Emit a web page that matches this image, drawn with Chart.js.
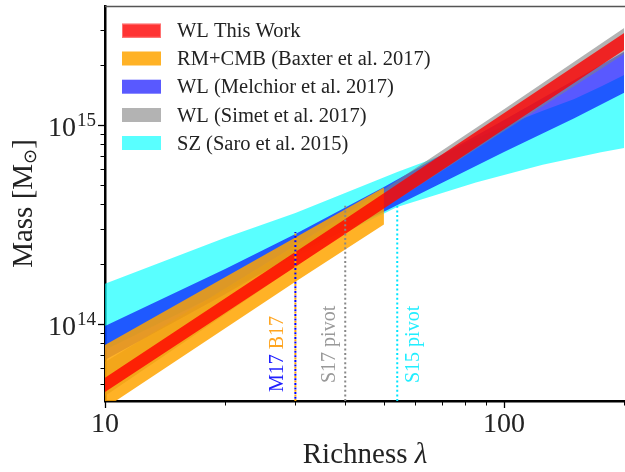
<!DOCTYPE html>
<html>
<head>
<meta charset="utf-8">
<script src="https://cdn.jsdelivr.net/npm/chart.js@4.4.1/dist/chart.umd.min.js"></script>
<style>
  html, body { margin: 0; padding: 0; background: #fff; }
  canvas { display: block; }
</style>
</head>
<body>
<canvas id="massChart" width="625" height="472"></canvas>
<script>
// band edges in Msun at a few richness values
const lambdaRed = [10, 40, 200];
const redUpper = [5.36e13, 3.37e14, 2.90e15];
const redLower = [4.55e13, 2.83e14, 2.38e15];

const lambdaBaxter = [10, 30, 50];
const baxterUpper = [7.84e13, 2.72e14, 4.85e14];
const baxterLower = [3.78e13, 1.63e14, 3.16e14];

const lambdaMelchior = [10, 20, 30, 50, 100, 150, 200];
const melchiorUpper = [9.77e13, 1.89e14, 2.83e14, 4.88e14, 1.06e15, 1.68e15, 2.33e15];
const melchiorLower = [6.59e13, 1.41e14, 2.25e14, 3.66e14, 7.31e14, 1.08e15, 1.45e15];

const lambdaSimet = [10, 40, 100, 200];
const simetUpper = [6.44e13, 3.53e14, 1.20e15, 3.07e15];
const simetLower = [4.35e13, 2.87e14, 9.33e14, 2.27e15];

const lambdaSaro = [10, 20, 30, 54, 70, 85, 100, 125, 150, 175, 200];
const saroUpper = [1.59e14, 2.71e14, 3.61e14, 5.80e14, 7.05e14, 8.55e14, 9.89e14, 1.18e15, 1.35e15, 1.56e15, 1.78e15];
const saroLower = [7.40e13, 1.47e14, 2.17e14, 3.87e14, 4.55e14, 5.14e14, 5.61e14, 6.30e14, 6.83e14, 7.30e14, 7.66e14];

// pivot / reference lines
const markerLabels = ['M17', 'B17', 'S17 pivot', 'S15 pivot'];
const markerLambda = [30, 30, 40, 54];
const markerTop = [2.9e14, 2.9e14, 3.93e14, 3.93e14];

// tick labels
const xTickValues = [10, 100];
const yTickValues = [1e14, 1e15];
const yTickBase = ['10', '10'];
const yTickExp = ['14', '15'];

const X_MIN = 10, X_MAX = 201;
const Y_MIN = 4.1e13, Y_MAX = 3.96e15;

const SERIF = '"Liberation Serif", "DejaVu Serif", serif';

function pts(xs, ys) {
  return xs.map((v, i) => ({ x: v, y: ys[i] }));
}

function band(label, xs, up, lo, color, order, lowerIndex) {
  return [
    { label: label, data: pts(xs, up), backgroundColor: color, borderColor: 'transparent',
      borderWidth: 0, pointRadius: 0, fill: lowerIndex, order: order, inLegend: true },
    { label: label + ' lower', data: pts(xs, lo), backgroundColor: color, borderColor: 'transparent',
      borderWidth: 0, pointRadius: 0, fill: false, order: order }
  ];
}

function marker(i, color, dashOffset) {
  return {
    label: markerLabels[i],
    data: [{ x: markerLambda[i], y: Y_MIN }, { x: markerLambda[i], y: markerTop[i] }],
    borderColor: color, borderWidth: 2, borderDash: [2, 2.6], borderDashOffset: dashOffset,
    pointRadius: 0, fill: false, order: -1
  };
}

const datasets = [].concat(
  band('WL This Work', lambdaRed, redUpper, redLower, 'rgba(255,0,0,0.8)', 0, 1),
  band('RM+CMB (Baxter et al. 2017)', lambdaBaxter, baxterUpper, baxterLower, 'rgba(255,165,0,0.85)', 1, 3),
  band('WL (Melchior et al. 2017)', lambdaMelchior, melchiorUpper, melchiorLower, 'rgba(0,0,255,0.65)', 3, 5),
  band('WL (Simet et al. 2017)', lambdaSimet, simetUpper, simetLower, 'rgba(128,128,128,0.6)', 2, 7),
  band('SZ (Saro et al. 2015)', lambdaSaro, saroUpper, saroLower, 'rgba(0,255,255,0.65)', 4, 9),
  [marker(1, '#ffa500', 0), marker(0, '#0000ff', 2.3), marker(2, '#888888', 0), marker(3, '#00e5ff', 0)]
);

const markerText = [
  { parts: [['M17', '#2020ff'], [' B17', '#ffa520']], lam: 30, dx: -12, y: 392 },
  { parts: [['S17 pivot', '#999999']], lam: 40, dx: -10.5, y: 383 },
  { parts: [['S15 pivot', '#22eeff']], lam: 54, dx: 22, y: 383 }
];

const decor = {
  id: 'decor',
  afterDraw(chart) {
    const { ctx, chartArea: a, scales: { x, y } } = chart;
    ctx.save();

    // top spine
    ctx.strokeStyle = '#555';
    ctx.lineWidth = 1.3;
    ctx.beginPath();
    ctx.moveTo(a.left, a.top + 0.5);
    ctx.lineTo(a.right, a.top + 0.5);
    ctx.stroke();

    // tick marks, outward
    ctx.strokeStyle = '#000';
    for (let d = 1; d <= 2; d++) {
      for (let m = 1; m <= 9; m++) {
        const v = m * Math.pow(10, d);
        if (v < X_MIN || v > X_MAX) continue;
        const px = Math.round(x.getPixelForValue(v)) + 0.5;
        const len = m === 1 ? 6 : 3.5;
        ctx.lineWidth = m === 1 ? 1.3 : 1;
        ctx.beginPath();
        ctx.moveTo(px, a.bottom + 1);
        ctx.lineTo(px, a.bottom + 1 + len);
        ctx.stroke();
      }
    }
    for (let d = 13; d <= 15; d++) {
      for (let m = 1; m <= 9; m++) {
        const v = m * Math.pow(10, d);
        if (v < Y_MIN || v > Y_MAX) continue;
        const py = Math.round(y.getPixelForValue(v)) + 0.5;
        const len = m === 1 ? 6 : 3.5;
        ctx.lineWidth = m === 1 ? 1.3 : 1;
        ctx.beginPath();
        ctx.moveTo(a.left - 1, py);
        ctx.lineTo(a.left - 1 - len, py);
        ctx.stroke();
      }
    }

    // y tick labels 10^n
    ctx.fillStyle = '#222';
    ctx.textBaseline = 'alphabetic';
    ctx.textAlign = 'left';
    yTickValues.forEach((v, i) => {
      const py = y.getPixelForValue(v);
      ctx.font = '28px ' + SERIF;
      ctx.fillText(yTickBase[i], 48, py + 11.5);
      const w = ctx.measureText(yTickBase[i]).width;
      ctx.font = '19px ' + SERIF;
      ctx.fillText(yTickExp[i], 48 + w + 1, py + 1.5);
    });

    // axis titles
    ctx.font = '29px ' + SERIF;
    const t1 = 'Richness ';
    const w1 = ctx.measureText(t1).width;
    ctx.font = 'italic 29px ' + SERIF;
    const w2 = ctx.measureText('λ').width;
    const cx = (a.left + a.right) / 2;
    ctx.font = '29px ' + SERIF;
    ctx.fillText(t1, cx - (w1 + w2) / 2, 463);
    ctx.font = 'italic 29px ' + SERIF;
    ctx.fillText('λ', cx - (w1 + w2) / 2 + w1, 463);

    ctx.save();
    ctx.translate(32, (a.top + a.bottom) / 2);
    ctx.rotate(-Math.PI / 2);
    ctx.font = '29px ' + SERIF;
    const s1 = 'Mass [M';
    const sw1 = ctx.measureText(s1).width;
    ctx.font = '18px "DejaVu Sans", sans-serif';
    const sw2 = ctx.measureText('⊙').width;
    ctx.font = '29px ' + SERIF;
    const sw3 = ctx.measureText(']').width;
    const sx = -(sw1 + sw2 + sw3) / 2;
    ctx.fillText(s1, sx, 0);
    ctx.font = '18px "DejaVu Sans", sans-serif';
    ctx.fillText('⊙', sx + sw1, 4);
    ctx.font = '29px ' + SERIF;
    ctx.fillText(']', sx + sw1 + sw2, 0);
    ctx.restore();

    // rotated labels next to the reference lines
    ctx.font = '20px ' + SERIF;
    markerText.forEach(m => {
      ctx.save();
      ctx.translate(x.getPixelForValue(m.lam) + m.dx, m.y);
      ctx.rotate(-Math.PI / 2);
      let off = 0;
      m.parts.forEach(p => {
        ctx.fillStyle = p[1];
        ctx.fillText(p[0], off, 0);
        off += ctx.measureText(p[0]).width;
      });
      ctx.restore();
    });

    // legend
    const rowY = [30.7, 58.5, 86.7, 115, 143];
    let r = 0;
    chart.data.datasets.forEach(ds => {
      if (!ds.inLegend) return;
      const cy = rowY[r++];
      ctx.fillStyle = '#fff';
      ctx.fillRect(122, cy - 7, 39, 14);
      ctx.fillStyle = ds.backgroundColor;
      ctx.fillRect(122, cy - 7, 39, 14);
      if (r === 1) {
        ctx.strokeStyle = 'rgba(255,120,120,0.9)';
        ctx.lineWidth = 1;
        ctx.strokeRect(122.5, cy - 6.5, 38, 13);
      }
      ctx.fillStyle = '#222';
      ctx.font = '20.5px ' + SERIF;
      ctx.fillText(ds.label, 177, cy + 6.5);
    });

    ctx.restore();
  }
};

new Chart(document.getElementById('massChart').getContext('2d'), {
  type: 'line',
  data: { datasets: datasets },
  options: {
    responsive: false,
    animation: false,
    events: [],
    layout: { padding: { top: 6, right: 0, left: 0, bottom: 0 } },
    plugins: {
      legend: { display: false },
      tooltip: { enabled: false },
      filler: { propagate: false }
    },
    scales: {
      x: {
        type: 'logarithmic',
        min: X_MIN,
        max: X_MAX,
        afterFit: s => { s.height = 71; s.paddingLeft = 0; s.paddingRight = 0; },
        grid: { display: true, drawOnChartArea: false, drawTicks: false },
        border: { display: true, color: '#000', width: 2.5 },
        ticks: {
          autoSkip: false,
          maxRotation: 0,
          minRotation: 0,
          padding: 7,
          color: '#222',
          font: { family: SERIF, size: 28 },
          callback: v => xTickValues.some(t => Math.abs(Math.log10(v) - Math.log10(t)) < 1e-6) ? String(Math.round(v)) : ''
        }
      },
      y: {
        type: 'logarithmic',
        min: Y_MIN,
        max: Y_MAX,
        afterFit: s => { s.width = 105; s.paddingTop = 0; s.paddingBottom = 0; },
        grid: { display: true, drawOnChartArea: false, drawTicks: false },
        border: { display: true, color: '#000', width: 2.5 },
        ticks: { display: false }
      }
    }
  },
  plugins: [decor]
});
</script>
</body>
</html>
